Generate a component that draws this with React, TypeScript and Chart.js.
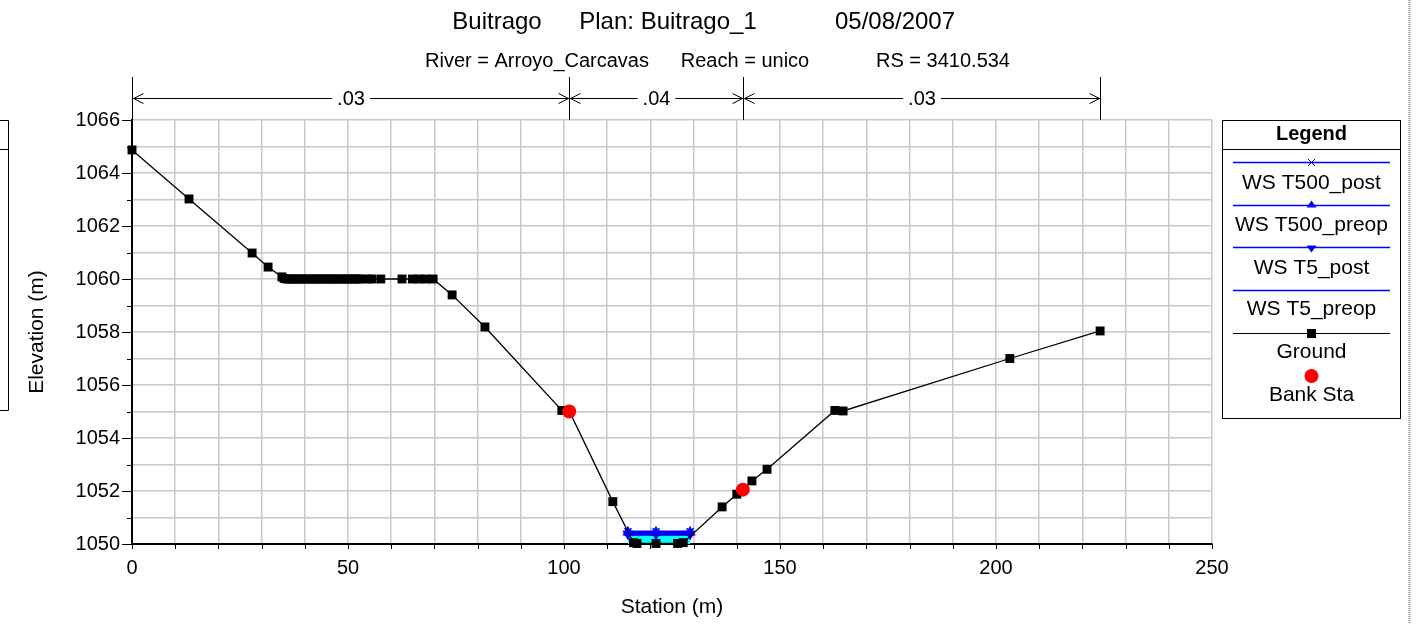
import React, { useEffect, useRef } from 'react';
import { Chart, registerables } from 'chart.js';

Chart.register(...registerables);

// ---------- data ----------
const groundStation = [
  0, 13.2, 27.8, 31.5, 34.7, 35.2, 35.8, 36.4, 37.1, 37.8, 38.6, 39.3, 40.1, 40.9, 41.6, 42.4,
  43.1, 43.9, 44.7, 45.4, 46.2, 46.9, 47.7, 48.5, 49.2, 50.0, 50.7, 51.5, 52.3, 52.9, 54.6,
  55.5, 57.6, 62.5, 64.9, 66.4, 68.0, 69.7, 74.1, 81.7, 99.5, 101.2, 111.3, 116.1, 116.9,
  121.3, 126.3, 127.6, 136.6, 140.0, 143.5, 147.0, 162.7, 164.6, 203.2, 224.1,
];
const groundElev = [
  1064.87, 1063.02, 1060.98, 1060.45, 1060.08, 1060.02, 1060.0, 1060.0, 1060.0, 1060.0, 1060.0,
  1060.0, 1060.0, 1060.0, 1060.0, 1060.0, 1060.0, 1060.0, 1060.0, 1060.0, 1060.0, 1060.0, 1060.0,
  1060.0, 1060.0, 1060.0, 1060.0, 1060.0, 1060.0, 1060.0, 1060.0, 1060.0, 1060.0, 1060.0, 1060.0,
  1060.0, 1060.0, 1060.0, 1059.4, 1058.19, 1055.04, 1055.02, 1051.6, 1050.05, 1050.02, 1050.02,
  1050.02, 1050.05, 1051.4, 1051.88, 1052.38, 1052.82, 1055.04, 1055.02, 1057.0, 1058.04,
];
const bankStation = [101.2, 141.4];
const bankElev = [1055.0, 1052.05];

const wsStation = [114.8, 121.3, 129.2];
const wsT500post = [1050.46, 1050.46, 1050.46];
const wsT500preop = [1050.44, 1050.44, 1050.44];
const wsT5post = [1050.38, 1050.38, 1050.38];
const wsT5preop = [1050.36, 1050.36, 1050.36];

const nStations = [0, 101.2, 141.4, 224.1];
const nValues = ['.03', '.04', '.03'];

const titleParts = ['Buitrago', 'Plan: Buitrago_1', '05/08/2007'];
const subtitleParts = ['River = Arroyo_Carcavas', 'Reach = unico', 'RS = 3410.534'];
const legendLabels = ['WS T500_post', 'WS T500_preop', 'WS T5_post', 'WS T5_preop', 'Ground', 'Bank Sta'];

const xMin = 0, xMax = 250, xStep = 10, xLabelStep = 50;
const yMin = 1050, yMax = 1066, yStep = 1, yLabelStep = 2;

const FONT = "'Liberation Sans', Arial, sans-serif";
const BLUE = '#0000ff';

const pts = (xs: number[], ys: number[]) => xs.map((x, i) => ({ x, y: ys[i] }));

const decorPlugin = {
  id: 'decor',
  afterDraw(chart: any) {
    const ctx: CanvasRenderingContext2D = chart.ctx;
    const xs = chart.scales.x;
    const ys = chart.scales.y;
    const area = chart.chartArea;
    ctx.save();
    ctx.fillStyle = '#000';
    ctx.strokeStyle = '#000';

    // titles
    ctx.textBaseline = 'middle';
    ctx.textAlign = 'center';
    ctx.font = `24px ${FONT}`;
    const tx = [497, 668, 895];
    titleParts.forEach((t, i) => ctx.fillText(t, tx[i], 22));
    ctx.font = `20px ${FONT}`;
    const sx = [537, 745, 943];
    subtitleParts.forEach((t, i) => ctx.fillText(t, sx[i], 61));

    // axis titles
    ctx.font = `21px ${FONT}`;
    ctx.textAlign = 'center';
    ctx.fillText('Station (m)', (area.left + area.right) / 2, 607);
    ctx.save();
    ctx.translate(37, (area.top + area.bottom) / 2);
    ctx.rotate(-Math.PI / 2);
    ctx.fillText('Elevation (m)', 0, 0);
    ctx.restore();

    // tick marks
    ctx.lineWidth = 1;
    for (let v = yMin; v <= yMax; v += yStep) {
      const y = Math.round(ys.getPixelForValue(v)) + 0.5;
      const len = (v - yMin) % yLabelStep === 0 ? 10 : 5;
      ctx.beginPath();
      ctx.moveTo(area.left - len, y);
      ctx.lineTo(area.left, y);
      ctx.stroke();
    }
    for (let v = xMin; v <= xMax; v += xStep) {
      const x = Math.round(xs.getPixelForValue(v)) + 0.5;
      ctx.beginPath();
      ctx.moveTo(x, area.bottom);
      ctx.lineTo(x, area.bottom + 5);
      ctx.stroke();
    }

    // n-value annotations
    const ay = 98.5;
    ctx.font = `20px ${FONT}`;
    const npx = nStations.map((s) => Math.round(xs.getPixelForValue(s)) + 0.5);
    npx.forEach((x) => {
      ctx.beginPath();
      ctx.moveTo(x, 77);
      ctx.lineTo(x, area.top);
      ctx.stroke();
    });
    for (let i = 0; i < nValues.length; i++) {
      const a = npx[i], b = npx[i + 1];
      const mid = (a + b) / 2;
      const w = ctx.measureText(nValues[i]).width;
      ctx.beginPath();
      ctx.moveTo(a, ay);
      ctx.lineTo(mid - w / 2 - 5, ay);
      ctx.moveTo(mid + w / 2 + 5, ay);
      ctx.lineTo(b, ay);
      // arrowheads
      ctx.moveTo(a + 11, ay - 5);
      ctx.lineTo(a + 1, ay);
      ctx.lineTo(a + 11, ay + 5);
      ctx.moveTo(b - 11, ay - 5);
      ctx.lineTo(b - 1, ay);
      ctx.lineTo(b - 11, ay + 5);
      ctx.stroke();
      ctx.textAlign = 'center';
      ctx.fillText(nValues[i], mid, ay + 1);
    }

    // legend box
    const L = 1222.5, R = 1400.5, T = 120.5, B = 418.5;
    const cx = (L + R) / 2;
    ctx.lineWidth = 1;
    ctx.strokeStyle = '#000';
    ctx.strokeRect(L, T, R - L, B - T);
    ctx.beginPath();
    ctx.moveTo(L, 149.5);
    ctx.lineTo(R, 149.5);
    ctx.stroke();
    ctx.font = `bold 20px ${FONT}`;
    ctx.textAlign = 'center';
    ctx.fillText('Legend', cx, 134);
    const lineYs = [162.5, 205.5, 247.5, 290.5, 333.5];
    const textYs = [183, 225, 268, 309, 352];
    ctx.font = `21px ${FONT}`;
    for (let i = 0; i < 5; i++) {
      const ly = lineYs[i];
      ctx.strokeStyle = i < 4 ? BLUE : '#000';
      ctx.lineWidth = i < 4 ? 1.5 : 1.2;
      ctx.beginPath();
      ctx.moveTo(1233, ly);
      ctx.lineTo(1390, ly);
      ctx.stroke();
      ctx.fillStyle = i < 4 ? BLUE : '#000';
      if (i === 0) {
        ctx.beginPath();
        ctx.moveTo(cx - 3.5, ly - 3.5);
        ctx.lineTo(cx + 3.5, ly + 3.5);
        ctx.moveTo(cx + 3.5, ly - 3.5);
        ctx.lineTo(cx - 3.5, ly + 3.5);
        ctx.lineWidth = 1;
        ctx.stroke();
      } else if (i === 1) {
        ctx.beginPath();
        ctx.moveTo(cx, ly - 5);
        ctx.lineTo(cx + 5, ly + 2);
        ctx.lineTo(cx - 5, ly + 2);
        ctx.closePath();
        ctx.fill();
      } else if (i === 2) {
        ctx.beginPath();
        ctx.moveTo(cx, ly + 5);
        ctx.lineTo(cx + 5, ly - 2);
        ctx.lineTo(cx - 5, ly - 2);
        ctx.closePath();
        ctx.fill();
      } else if (i === 4) {
        ctx.fillRect(cx - 4.5, ly - 4.5, 9, 9);
      }
      ctx.fillStyle = '#000';
      ctx.fillText(legendLabels[i], cx, textYs[i]);
    }
    ctx.fillStyle = '#ff0000';
    ctx.beginPath();
    ctx.arc(cx, 376, 7, 0, Math.PI * 2);
    ctx.fill();
    ctx.fillStyle = '#000';
    ctx.fillText(legendLabels[5], cx, 395);

    // left cut-off box
    ctx.strokeStyle = '#000';
    ctx.lineWidth = 1;
    ctx.beginPath();
    ctx.moveTo(0, 120.5);
    ctx.lineTo(8.5, 120.5);
    ctx.lineTo(8.5, 410.5);
    ctx.lineTo(0, 410.5);
    ctx.moveTo(0, 149.5);
    ctx.lineTo(8.5, 149.5);
    ctx.stroke();

    // right dotted separator
    ctx.strokeStyle = '#888';
    ctx.lineWidth = 2;
    ctx.setLineDash([1, 1]);
    ctx.beginPath();
    ctx.moveTo(1409.5, 0);
    ctx.lineTo(1409.5, 624);
    ctx.stroke();
    ctx.setLineDash([]);

    ctx.restore();
  },
};

export default function App() {
  const ref = useRef<HTMLCanvasElement | null>(null);

  useEffect(() => {
    document.body.style.margin = '0';
    document.body.style.background = '#fff';
    if (!ref.current) return;
    Chart.defaults.font.family = FONT;
    const wsLine = (label: string, ys: number[], style: any, rotation = 0, fill: any = false) => ({
      label,
      data: pts(wsStation, ys),
      borderColor: BLUE,
      backgroundColor: fill ? '#00ffff' : BLUE,
      pointBackgroundColor: BLUE,
      pointBorderColor: BLUE,
      borderWidth: 2.5,
      pointStyle: style,
      pointRotation: rotation,
      pointRadius: 5,
      pointBorderWidth: 1.5,
      fill,
      clip: false,
    });
    const chart = new Chart(ref.current, {
      type: 'line',
      data: {
        datasets: [
          {
            label: 'Bank Sta',
            data: pts(bankStation, bankElev),
            showLine: false,
            pointStyle: 'circle',
            pointRadius: 7,
            pointBackgroundColor: '#ff0000',
            pointBorderColor: '#ff0000',
            borderWidth: 0,
            clip: false,
          } as any,
          {
            label: 'Ground',
            data: pts(groundStation, groundElev),
            borderColor: '#000',
            borderWidth: 1.3,
            pointStyle: 'rect',
            pointRadius: 6.3,
            pointBackgroundColor: '#000',
            pointBorderColor: '#000',
            pointBorderWidth: 0,
            clip: false,
          } as any,
          wsLine('WS T500_post', wsT500post, 'crossRot'),
          wsLine('WS T500_preop', wsT500preop, 'triangle'),
          wsLine('WS T5_post', wsT5post, 'triangle', 180),
          wsLine('WS T5_preop', wsT5preop, false, 0, { target: 'start' }),
        ],
      },
      options: {
        responsive: false,
        animation: false,
        layout: { padding: { top: 120, left: 0, right: 208, bottom: 0 } },
        plugins: {
          legend: { display: false },
          title: { display: false },
          tooltip: { enabled: false },
        },
        elements: { line: { tension: 0 } },
        scales: {
          x: {
            type: 'linear',
            min: xMin,
            max: xMax,
            afterFit: (s: any) => {
              s.height = 80;
            },
            border: { color: '#000', width: 2 },
            grid: { color: '#c8c8c8', lineWidth: 1.5, drawTicks: false },
            ticks: {
              stepSize: xStep,
              autoSkip: false,
              maxRotation: 0,
              padding: 12,
              color: '#000',
              font: { size: 20, family: FONT },
              callback: (v: any) => (Number(v) % xLabelStep === 0 ? String(v) : ''),
            },
          },
          y: {
            type: 'linear',
            min: yMin,
            max: yMax,
            afterFit: (s: any) => {
              s.width = 132;
            },
            border: { color: '#000', width: 2 },
            grid: { color: '#c8c8c8', lineWidth: 1.5, drawTicks: false },
            ticks: {
              stepSize: yStep,
              autoSkip: false,
              padding: 12,
              color: '#000',
              font: { size: 20, family: FONT },
              callback: (v: any) => ((Number(v) - yMin) % yLabelStep === 0 ? String(v) : ''),
            },
          },
        },
      } as any,
      plugins: [decorPlugin],
    });
    return () => chart.destroy();
  }, []);

  return (
    <div style={{ width: 1420, height: 624, background: '#fff' }}>
      <canvas ref={ref} width={1420} height={624} style={{ display: 'block' }} />
    </div>
  );
}
